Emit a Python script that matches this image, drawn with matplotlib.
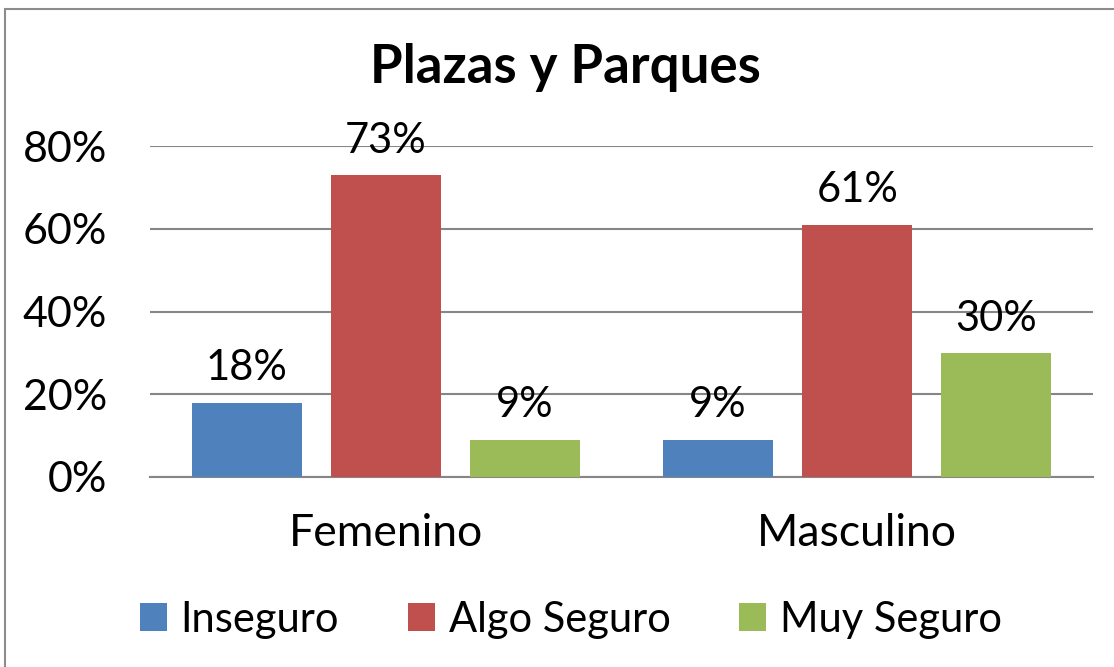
import matplotlib.pyplot as plt
from matplotlib.patches import Rectangle
import numpy as np

plt.rcParams['font.family'] = ['Lato', 'DejaVu Sans']

categories = ['Femenino', 'Masculino']
series = ['Inseguro', 'Algo Seguro', 'Muy Seguro']
values = {
    'Inseguro': [18, 9],
    'Algo Seguro': [73, 61],
    'Muy Seguro': [9, 30],
}
colors = ['#4F81BD', '#C0504D', '#9BBB59']
yticks = [0, 20, 40, 60, 80]

fig = plt.figure(figsize=(11.14, 6.67), dpi=100)
ax = fig.add_axes([150/1114, 190/667, 943/1114, 331/667])

# outer chart border (only top and left edges fall inside the image)
fig.patches.append(Rectangle((5/1114, -20/667), 1130/1114, 678/667, transform=fig.transFigure,
                             fill=False, edgecolor='#8c8c8c', linewidth=1.5))

x = np.arange(len(categories))
width = 0.233
step = 0.295
for i, name in enumerate(series):
    bars = ax.bar(x + (i - 1) * step, values[name], width, color=colors[i], label=name, zorder=3)
    for b, v in zip(bars, values[name]):
        ax.annotate('{}%'.format(v), (b.get_x() + b.get_width() / 2, v),
                    xytext=(0, 11), textcoords='offset points',
                    ha='center', va='bottom', fontsize=30)

ax.set_xlim(-0.5, 1.5)
ax.set_ylim(0, 80)
ax.set_yticks(yticks)
ax.set_yticklabels(['{}%'.format(t) for t in yticks], fontsize=31)
ax.set_xticks(x)
ax.set_xticklabels(categories, fontsize=32)
ax.tick_params(axis='y', length=0, pad=31)
ax.tick_params(axis='x', length=0, pad=26)
ax.yaxis.grid(True, color='#868686', linewidth=1.5, zorder=0)
for s in ['top', 'right', 'left']:
    ax.spines[s].set_visible(False)
ax.spines['bottom'].set_color('#868686')
ax.spines['bottom'].set_linewidth(1.5)

fig.text(565/1114, 1 - 68/667, 'Plazas y Parques', ha='center', va='center',
         fontsize=38, fontweight='bold')

fig.legend(loc='center', bbox_to_anchor=(571/1114, 1 - 620/667), ncol=3, frameon=False,
           fontsize=30, handlelength=0.65, handleheight=0.65, handletextpad=0.33,
           columnspacing=1.65)

fig.savefig('out.png', dpi=100)
